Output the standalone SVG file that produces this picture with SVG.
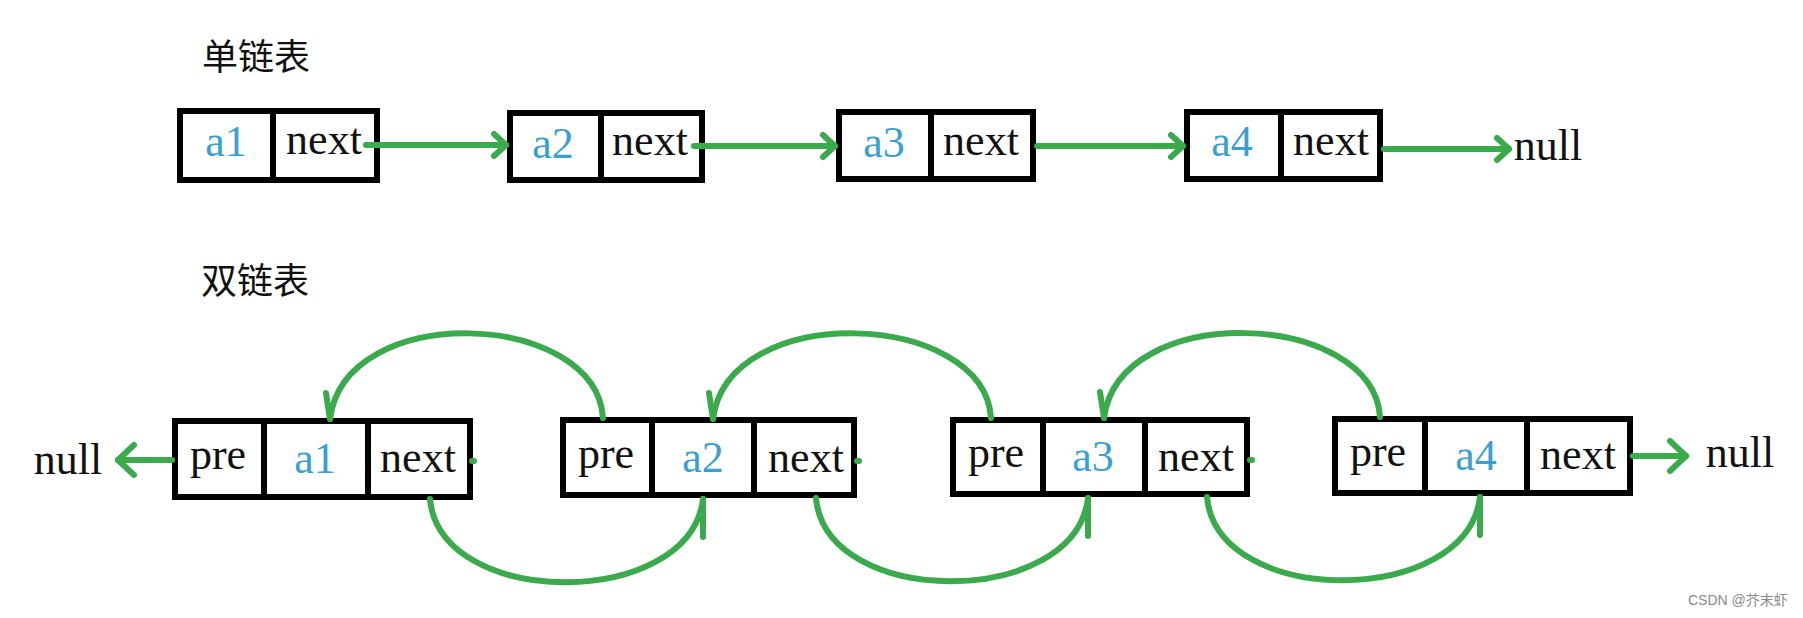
<svg xmlns="http://www.w3.org/2000/svg" width="1803" height="618" viewBox="0 0 1803 618">
<style>
.box{fill:#fff;stroke:#000;stroke-width:6}
.div{stroke:#000;stroke-width:6}
.lbl{font-family:"Liberation Serif",serif;font-size:44px;fill:#111;text-anchor:middle}
.val{font-family:"Liberation Serif",serif;font-size:44px;fill:#3aa0d2;text-anchor:middle}
.title{font-family:"Noto Sans CJK SC",sans-serif;font-size:36px;fill:#111}
.ln{fill:none;stroke:#3aaa4c;stroke-width:6;stroke-linecap:round;stroke-linejoin:round}
.wm{font-family:"Liberation Sans","Noto Sans CJK SC",sans-serif;font-size:14px;fill:#8a8a8a}
</style>
<defs>
<marker id="chev" markerUnits="userSpaceOnUse" viewBox="-16 -14 20 28" refX="0" refY="0" markerWidth="20" markerHeight="28" orient="auto" overflow="visible">
<path d="M-12,-11 L0,0 L-12,11" fill="none" stroke="#3aaa4c" stroke-width="6" stroke-linecap="round" stroke-linejoin="round"/>
</marker>
<marker id="chevL" markerUnits="userSpaceOnUse" viewBox="-20 -18 24 36" refX="0" refY="0" markerWidth="24" markerHeight="36" orient="auto" overflow="visible">
<path d="M-16,-15 L0,0 L-16,15" fill="none" stroke="#3aaa4c" stroke-width="6" stroke-linecap="round" stroke-linejoin="round"/>
</marker>
</defs>
<rect width="1803" height="618" fill="#fff"/>

<text class="title" x="202" y="70">单链表</text>
<text class="title" x="201" y="294">双链表</text>

<g id="s1">
<rect class="box" x="180" y="111" width="197" height="69"/>
<line class="div" x1="273" y1="111" x2="273" y2="180"/>
<text class="val" x="226" y="156">a1</text>
<text class="lbl" x="324" y="154">next</text>
</g>
<g id="s2">
<rect class="box" x="510" y="113" width="192" height="67"/>
<line class="div" x1="601" y1="113" x2="601" y2="180"/>
<text class="val" x="553" y="158">a2</text>
<text class="lbl" x="650" y="155">next</text>
</g>
<g id="s3">
<rect class="box" x="839" y="112" width="194" height="67"/>
<line class="div" x1="931" y1="112" x2="931" y2="179"/>
<text class="val" x="884" y="157">a3</text>
<text class="lbl" x="981" y="155">next</text>
</g>
<g id="s4">
<rect class="box" x="1187" y="112" width="193" height="67"/>
<line class="div" x1="1281" y1="112" x2="1281" y2="179"/>
<text class="val" x="1232" y="156">a4</text>
<text class="lbl" x="1331" y="155">next</text>
</g>
<g id="snull">
<text class="lbl" x="1548" y="160">null</text>
</g>

<g id="d1">
<rect class="box" x="175" y="421" width="295" height="76"/>
<line class="div" x1="264" y1="421" x2="264" y2="497"/>
<line class="div" x1="368" y1="421" x2="368" y2="497"/>
<text class="lbl" x="218" y="469">pre</text>
<text class="val" x="315" y="473">a1</text>
<text class="lbl" x="418" y="472">next</text>
</g>
<g id="d2">
<rect class="box" x="563" y="420" width="291" height="75"/>
<line class="div" x1="652" y1="420" x2="652" y2="495"/>
<line class="div" x1="754" y1="420" x2="754" y2="495"/>
<text class="lbl" x="606" y="468">pre</text>
<text class="val" x="703" y="472">a2</text>
<text class="lbl" x="806" y="472">next</text>
</g>
<g id="d3">
<rect class="box" x="953" y="420" width="294" height="74"/>
<line class="div" x1="1043" y1="420" x2="1043" y2="494"/>
<line class="div" x1="1145" y1="420" x2="1145" y2="494"/>
<text class="lbl" x="996" y="467">pre</text>
<text class="val" x="1093" y="471">a3</text>
<text class="lbl" x="1196" y="471">next</text>
</g>
<g id="d4">
<rect class="box" x="1335" y="419" width="295" height="74"/>
<line class="div" x1="1425" y1="419" x2="1425" y2="493"/>
<line class="div" x1="1527" y1="419" x2="1527" y2="493"/>
<text class="lbl" x="1378" y="466">pre</text>
<text class="val" x="1476" y="470">a4</text>
<text class="lbl" x="1578" y="469">next</text>
</g>
<g id="dnullL">
<text class="lbl" x="68" y="474">null</text>
</g>
<g id="dnullR">
<text class="lbl" x="1740" y="467">null</text>
</g>

<g id="connectors">
<line class="ln" x1="366" y1="145" x2="506" y2="145" marker-end="url(#chev)"/>
<line class="ln" x1="694" y1="146" x2="835" y2="146" marker-end="url(#chev)"/>
<line class="ln" x1="1037" y1="146" x2="1183" y2="146" marker-end="url(#chev)"/>
<line class="ln" x1="1384" y1="149" x2="1509" y2="149" marker-end="url(#chev)"/>

<line class="ln" x1="172" y1="460" x2="118" y2="460" marker-end="url(#chevL)"/>
<line class="ln" x1="1633" y1="456" x2="1686" y2="456" marker-end="url(#chevL)"/>

<path class="ln" d="M603,418 C596,310 345,300 330,419"/>
<path class="ln" d="M326,393 L330,419"/>
<path class="ln" d="M991,418 C984,310 728,300 713,419"/>
<path class="ln" d="M709,393 L713,419"/>
<path class="ln" d="M1380,417 C1373,310 1119,300 1104,418"/>
<path class="ln" d="M1100,392 L1104,418"/>

<path class="ln" d="M430,499 C440,610 690,610 703,499"/>
<path class="ln" d="M703,499 L703,537"/>
<path class="ln" d="M816,498 C826,609 1075,609 1088,498"/>
<path class="ln" d="M1088,498 L1088,536"/>
<path class="ln" d="M1207,497 C1217,608 1467,608 1480,497"/>
<path class="ln" d="M1480,497 L1480,535"/>

<line class="ln" x1="472" y1="461" x2="474" y2="461"/>
<line class="ln" x1="857" y1="461" x2="859" y2="461"/>
<line class="ln" x1="1250" y1="460" x2="1252" y2="460"/>
</g>

<text class="wm" x="1688" y="605">CSDN @芥末虾</text>
</svg>
